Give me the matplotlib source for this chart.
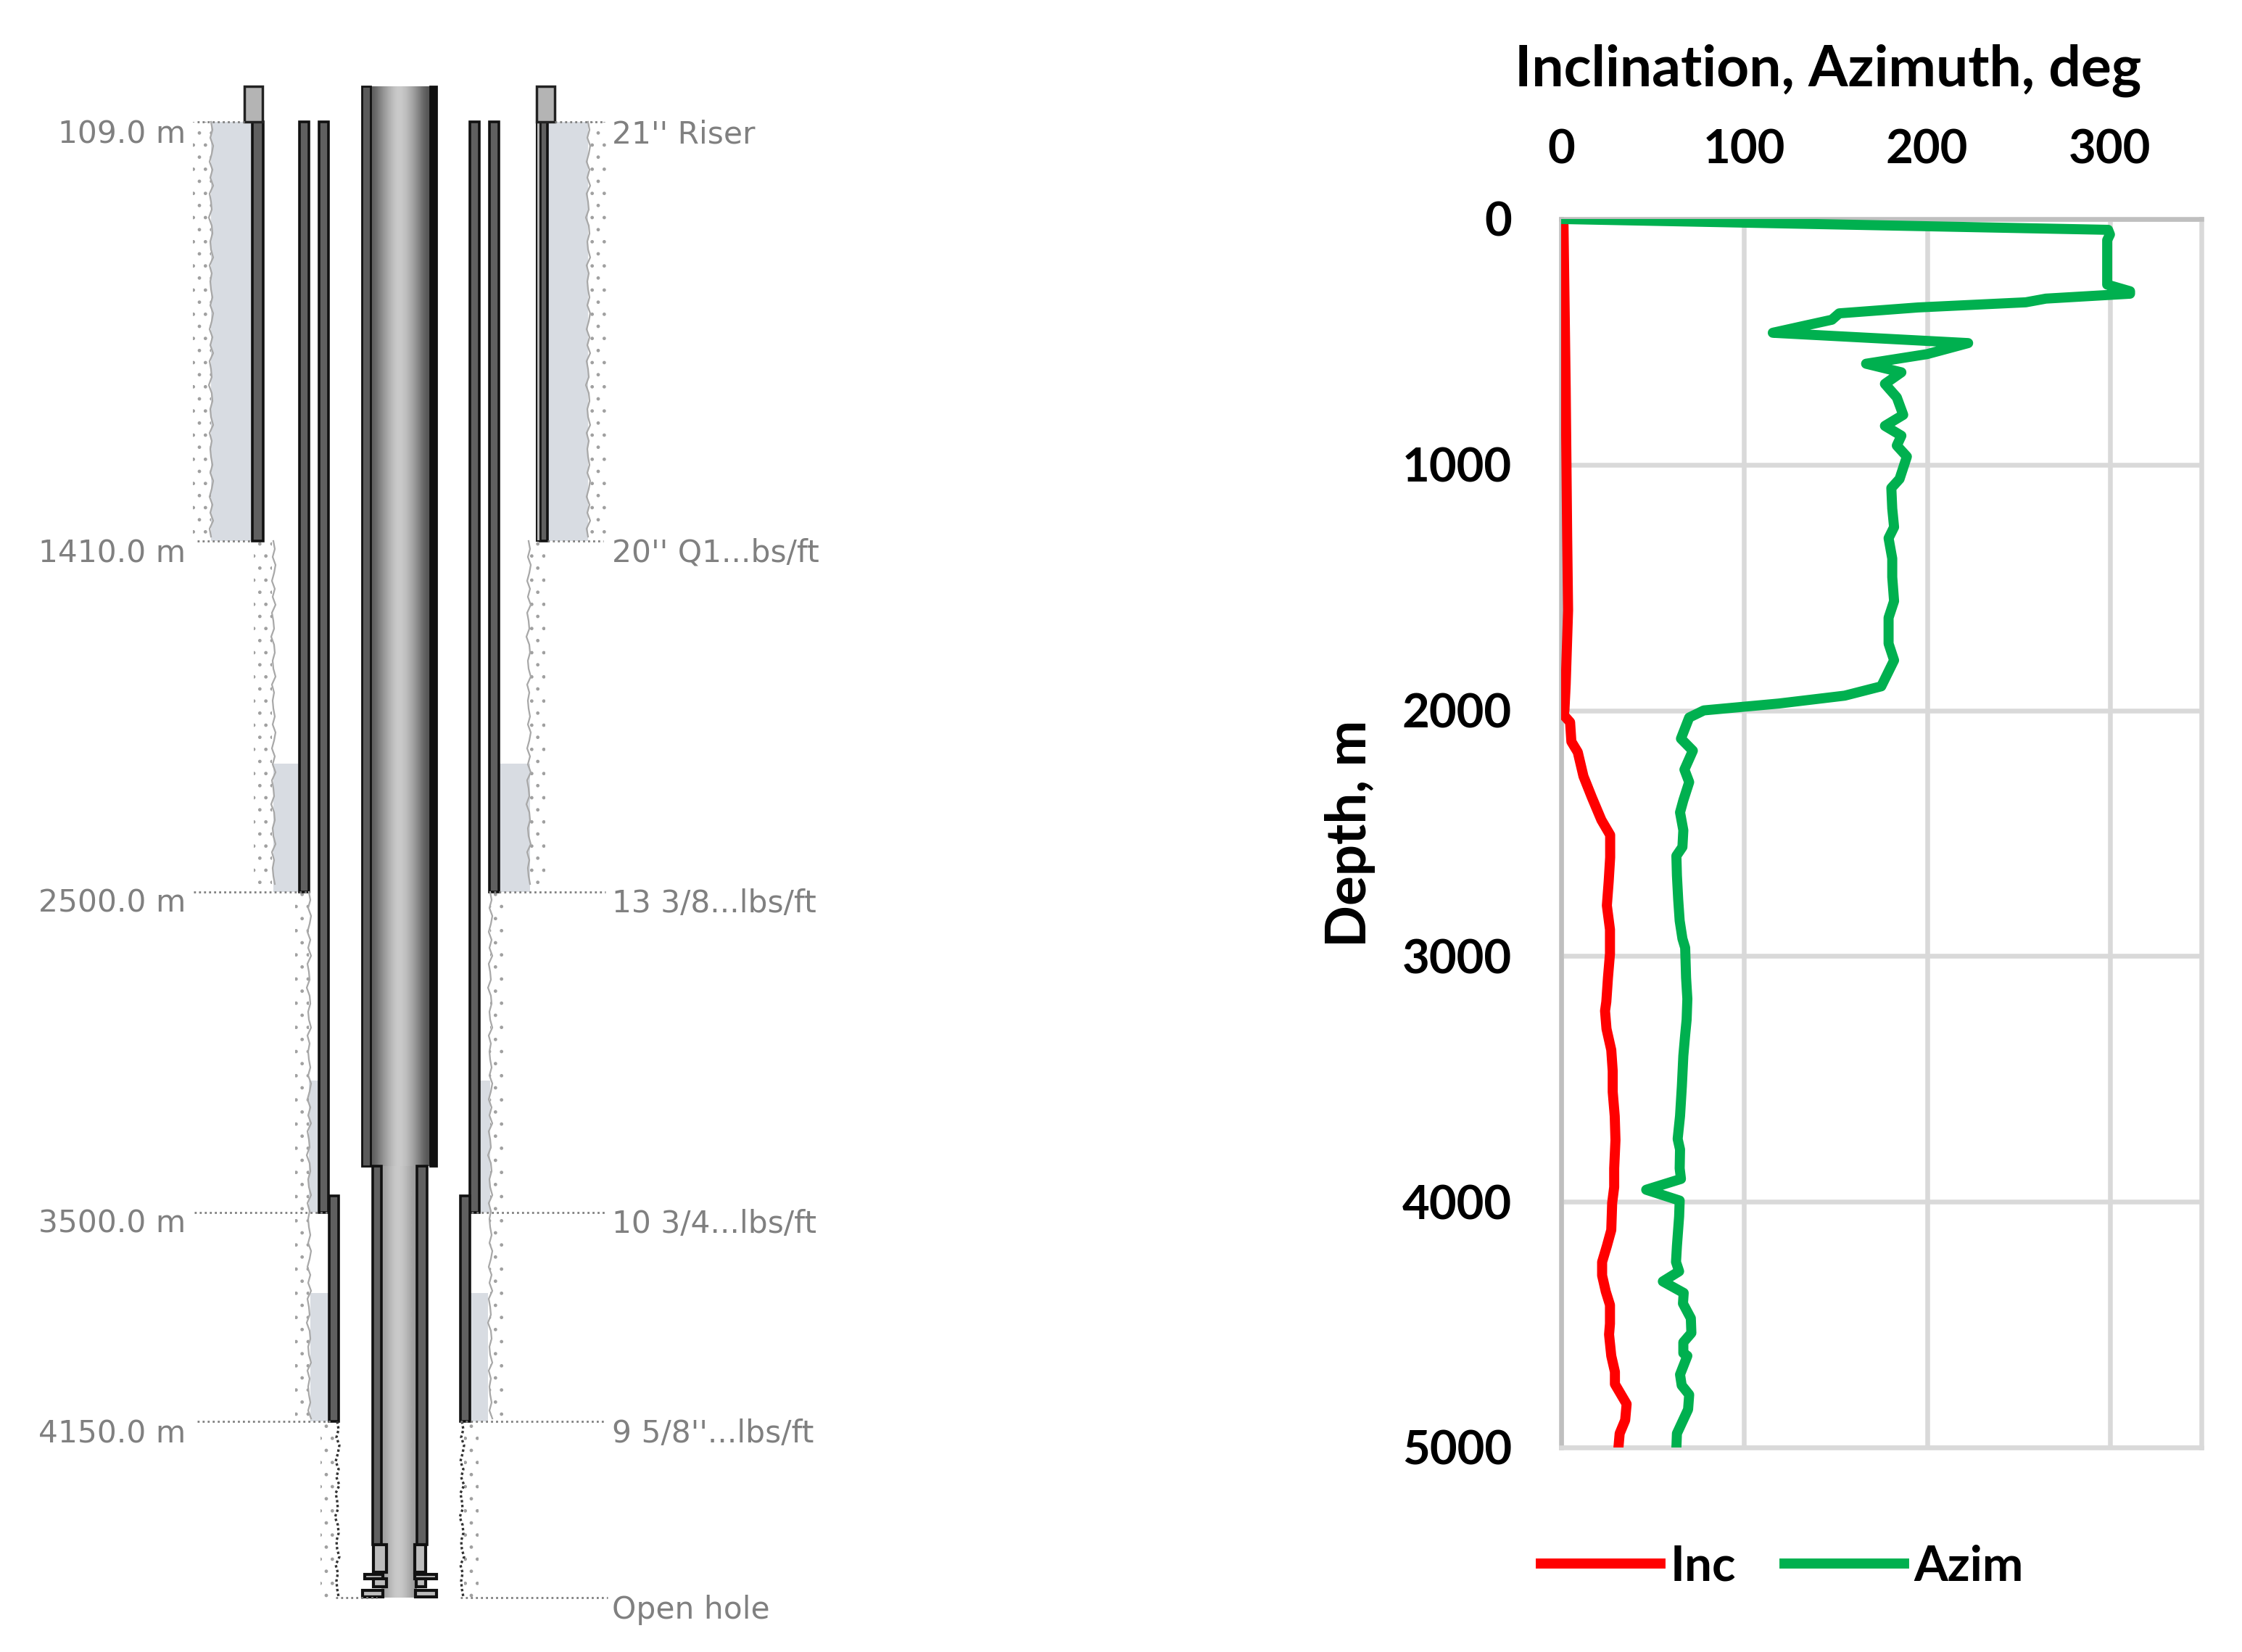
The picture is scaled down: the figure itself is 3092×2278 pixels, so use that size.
import numpy as np
import matplotlib
matplotlib.use("Agg")
from matplotlib import pyplot as plt
from matplotlib.patches import Rectangle

plt.rcParams['font.family'] = ['Lato', 'DejaVu Sans']
plt.rcParams['hatch.linewidth'] = 1.0

# survey curves
inc_depth = [0, 25, 689, 1292, 1593, 1894, 2000, 2017, 2048, 2127, 2170, 2268, 2354, 2446, 2507,
             2598, 2696, 2794, 2892, 2990, 3088, 3186, 3223, 3296, 3382, 3468, 3553, 3651, 3749,
             3864, 3940, 4005, 4115, 4180, 4245, 4300, 4365, 4420, 4496, 4540, 4627, 4692, 4742,
             4823, 4889, 4943, 5003]
inc_deg = [0.5, 1.3, 2.5, 3.3, 3.8, 2.5, 1.8, 1.2, 4.9, 5.6, 9.1, 12.2, 16.8, 22, 26.8,
           26.8, 26, 25, 26.7, 26.7, 25.6, 24.7, 24, 24.8, 27.4, 28.2, 28.2, 29.3, 29.7,
           29, 29, 27.9, 27.4, 25, 22.4, 22.4, 24.4, 26.7, 26.7, 26.2, 27.4, 29.4, 29.4,
           35.8, 35, 32, 31.3]

azim_depth = [0, 44, 63, 86, 267, 294, 304, 324, 339, 360, 384, 410, 432, 463, 505, 550, 589, 624,
              671, 726, 797, 842, 882, 922, 967, 1058, 1095, 1178, 1254, 1299, 1382, 1457, 1555,
              1623, 1728, 1796, 1902, 1940, 1972, 2000, 2029, 2115, 2164, 2241, 2292, 2366, 2415,
              2488, 2556, 2592, 2672, 2770, 2856, 2929, 2966, 3088, 3174, 3259, 3321, 3406, 3529,
              3651, 3744, 3787, 3864, 3907, 3951, 3995, 4060, 4180, 4245, 4283, 4324, 4371, 4414,
              4474, 4534, 4572, 4616, 4627, 4703, 4747, 4785, 4845, 4943, 5003]
azim_deg = [0, 299, 300, 298.5, 298.5, 311, 311, 265, 254, 195, 152, 148, 134.5, 115.7, 222.5, 200,
            166.7, 186, 177, 183.5, 187, 177, 186, 183.5, 189, 185, 180.5, 181, 182, 179, 181, 181,
            182, 179, 179, 182, 175, 155, 119, 78, 70, 65.5, 72, 67.4, 70, 66.8, 65, 66.8, 66.3, 63,
            63.3, 64, 64.8, 66.3, 67.8, 68.3, 69, 68.6, 67.8, 66.8, 66, 65, 63.7, 65, 64.8, 65.5,
            46.5, 64.8, 64.5, 63.3, 62.8, 64.5, 55.6, 67, 66.6, 70.9, 71.2, 66.8, 66.8, 69, 65,
            65.9, 70, 69.4, 63.3, 63]

x_ticks = [0, 100, 200, 300]
y_ticks = [0, 1000, 2000, 3000, 4000, 5000]

# well sketch labels
depth_labels = ["109.0 m", "1410.0 m", "2500.0 m", "3500.0 m", "4150.0 m"]
depth_label_y = [185, 763, 1246, 1688, 1977]
casing_labels = ["21'' Riser", "20'' Q1...bs/ft", "13 3/8...lbs/ft", "10 3/4...lbs/ft",
                 "9 5/8''...lbs/ft", "Open hole"]
casing_label_y = [185, 763, 1246, 1688, 1977, 2220]

# sketch sections in picture pixels: x from, x to, y from, y to
cement = [(291, 348, 168, 746), (756, 811, 168, 746),
          (377, 413, 1053, 1230), (689, 731, 1053, 1230),
          (426, 440, 1490, 1672), (662, 676, 1490, 1672),
          (428, 454, 1783, 1960), (648, 673, 1783, 1960)]
rock = [(266, 291, 168, 746), (811, 836, 168, 746),
        (350, 375, 746, 1230), (731, 752, 746, 1230),
        (407, 426, 1230, 1960), (676, 697, 1230, 1960),
        (442, 462, 1960, 2203), (640, 660, 1960, 2203)]
hole_edges = [(291, 168, 746), (811, 168, 746), (377, 746, 1230), (729, 746, 1230),
              (426, 1230, 1960), (676, 1230, 1960)]
open_hole_edges = [(465, 1960, 2203), (637, 1960, 2203)]
casings = [(348, 363, 168, 746), (745, 755, 168, 746),
           (413, 426, 168, 1230), (675, 688, 168, 1230),
           (440, 453, 168, 1672), (648, 661, 168, 1672),
           (454, 467, 1649, 1960), (635, 648, 1649, 1960),
           (514, 526, 1608, 2130), (575, 589, 1608, 2130)]
tool_parts = [(515, 533, 2130, 2168), (572, 587, 2130, 2168),
              (503, 528, 2171, 2177), (572, 602, 2171, 2177),
              (515, 533, 2177, 2188), (574, 587, 2177, 2188),
              (500, 528, 2193, 2202), (573, 602, 2193, 2202)]
riser_blocks = [(337, 362, 119, 168), (740, 765, 119, 168)]
leaders = [(272, 337, 168), (765, 832, 168), (272, 348, 746), (755, 832, 746),
           (267, 425, 1230), (681, 835, 1230), (268, 451, 1672), (650, 834, 1672),
           (272, 459, 1960), (635, 834, 1960), (463, 520, 2203), (635, 838, 2203)]
edge_wobble = [0, 2, -1, 3, 1, -2, 2, -1, 3, -2, 0, 1, -3, 1, 2, -1, 0, 3, -2, 1, -1]

fig = plt.figure(figsize=(30.92, 22.78), dpi=100, facecolor='white')

# left part: the well sketch, drawn in picture pixels
sk = fig.add_axes([0, 0, 1, 1])
sk.axis('off')


def box(x0, x1, y0, y1, **kw):
    sk.add_patch(Rectangle((x0, y0), x1 - x0, y1 - y0, **kw))


for x0, x1, y0, y1 in rock:
    box(x0, x1, y0, y1, facecolor='none', edgecolor='#a0a0a0', hatch='.', linewidth=0)
for x0, x1, y0, y1 in cement:
    box(x0, x1, y0, y1, facecolor='#d8dce2', edgecolor='none')
for x, y0, y1 in hole_edges:
    ys = np.arange(y0, y1, 11)
    xs = [x + edge_wobble[i % len(edge_wobble)] for i in range(len(ys))]
    sk.plot(xs, ys, color='#a8a8a8', lw=1.6)
for x, y0, y1 in open_hole_edges:
    ys = np.arange(y0, y1, 11)
    xs = [x + edge_wobble[i % len(edge_wobble)] for i in range(len(ys))]
    sk.plot(xs, ys, color='#333333', lw=2.4, ls=(0, (1, 1)))
for x0, x1, y in leaders:
    sk.plot([x0, x1], [y, y], color='#808080', lw=2, ls=(0, (1, 1.5)))
for x0, x1, y0, y1 in casings:
    box(x0, x1, y0, y1, facecolor='#606060', edgecolor='#111111', linewidth=2.6)
box(740, 745, 168, 746, facecolor='#bdbdbd', edgecolor='#1a1a1a', linewidth=1.5)
for x0, x1, y0, y1 in riser_blocks:
    box(x0, x1, y0, y1, facecolor='#b4b4b4', edgecolor='#222222', linewidth=2.5)

# tubing shading, dark at the wall and light in the middle
shade = np.array([[0.36, 0.5, 0.62, 0.72, 0.8, 0.78, 0.7, 0.6, 0.46, 0.33]])
sk.imshow(shade, cmap='gray', vmin=0, vmax=1, extent=(511, 593, 1608, 119), aspect='auto',
          interpolation='bicubic')
shade_low = np.array([[0.62, 0.72, 0.8, 0.78, 0.7, 0.6]])
sk.imshow(shade_low, cmap='gray', vmin=0, vmax=1, extent=(526, 575, 2203, 1608), aspect='auto',
          interpolation='bicubic')
box(499, 511, 119, 1608, facecolor='#5a5a5a', edgecolor='#111111', linewidth=2)
box(593, 602, 119, 1608, facecolor='#111111', edgecolor='#111111', linewidth=2)
for x0, x1, y0, y1 in tool_parts:
    box(x0, x1, y0, y1, facecolor='#bdbdbd', edgecolor='#111111', linewidth=3)
sk.set_xlim(0, 3092)
sk.set_ylim(2278, 0)

for name, y in zip(depth_labels, depth_label_y):
    sk.text(256, y, name, ha='right', va='center', color='#808080', fontsize=30.5, family='DejaVu Sans')
for name, y in zip(casing_labels, casing_label_y):
    sk.text(844, y, name, ha='left', va='center', color='#808080', fontsize=30.5, family='DejaVu Sans')

# right part: inclination and azimuth against depth
ax = fig.add_axes([2153 / 3092, 1 - 1996 / 2278, 883 / 3092, 1694 / 2278])
ax.plot(inc_deg, inc_depth, color='#ff0000', lw=10, label='Inc', solid_joinstyle='round', zorder=3)
ax.plot(azim_deg, azim_depth, color='#00b04f', lw=10, label='Azim', solid_joinstyle='round', zorder=4)
ax.set_xlim(0, 350)
ax.set_ylim(5000, 0)
ax.xaxis.tick_top()
ax.xaxis.set_label_position('top')
ax.set_xticks(x_ticks)
ax.set_yticks(y_ticks)
ax.grid(True, color='#d9d9d9', lw=4.7)
ax.set_axisbelow(True)
ax.tick_params(length=0, labelsize=47)
for lab in ax.get_xticklabels() + ax.get_yticklabels():
    lab.set_fontweight('bold')
ax.tick_params(axis='y', pad=49)
ax.tick_params(axis='x', pad=47)
ax.set_xlabel('Inclination, Azimuth, deg', fontsize=56.5, fontweight='bold')
ax.xaxis.set_label_coords(0.4165, 1.108)
ax.set_ylabel('Depth, m', fontsize=55, fontweight='bold')
ax.yaxis.set_label_coords(-0.29, 0.5)
for side in ['left', 'top']:
    ax.spines[side].set_color('#bfbfbf')
    ax.spines[side].set_linewidth(4.7)
for side in ['right', 'bottom']:
    ax.spines[side].set_color('#d9d9d9')
    ax.spines[side].set_linewidth(4.7)

ax.legend(loc='center', bbox_to_anchor=(2458 / 3092, 1 - 2161 / 2278), bbox_transform=fig.transFigure,
          ncols=2, frameon=False, handlelength=2.45, handletextpad=0.2, columnspacing=1.0,
          prop={'size': 48.5, 'weight': 'bold'})

fig.savefig('out.png', dpi=100)
